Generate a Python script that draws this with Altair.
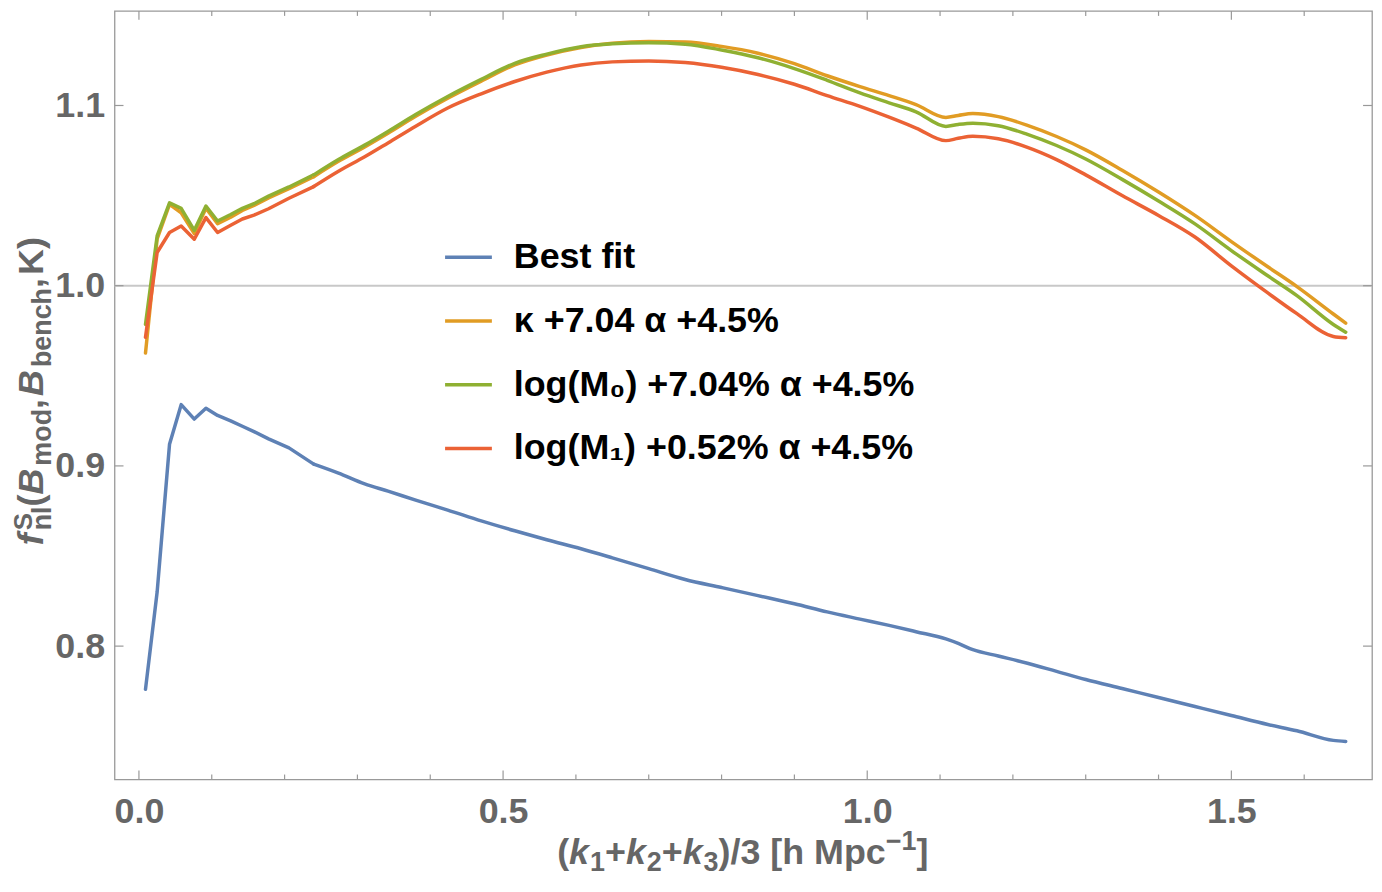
import altair as alt
import pandas as pd

# ---------------- data ----------------
K = [0.009, 0.025, 0.042, 0.058, 0.076, 0.092, 0.108, 0.126, 0.142, 0.158,
     0.178, 0.206, 0.240, 0.274, 0.310, 0.342, 0.380, 0.424, 0.470, 0.516,
     0.560, 0.607, 0.650, 0.700, 0.750, 0.800, 0.850, 0.900, 0.945, 0.990,
     1.030, 1.067, 1.108, 1.125, 1.145, 1.180, 1.220, 1.260, 1.300, 1.350,
     1.400, 1.450, 1.500, 1.550, 1.590, 1.640, 1.657]

BEST = [0.776, 0.830, 0.912, 0.934, 0.926, 0.932, 0.928, 0.925, 0.922, 0.919,
        0.915, 0.910, 0.901, 0.896, 0.890, 0.886, 0.881, 0.8755, 0.8695, 0.864,
        0.859, 0.854, 0.849, 0.843, 0.837, 0.8325, 0.828, 0.8235, 0.819, 0.815,
        0.8115, 0.808, 0.804, 0.8015, 0.798, 0.7945, 0.7905, 0.786, 0.7815, 0.7765,
        0.7715, 0.7665, 0.7615, 0.7565, 0.753, 0.7477, 0.7471]

KAPPA = [0.9626, 1.026, 1.0451, 1.0405, 1.0289, 1.043, 1.0344, 1.038, 1.0418, 1.0445,
         1.0487, 1.0538, 1.0605, 1.069, 1.077, 1.0846, 1.094, 1.104, 1.1135, 1.1225,
         1.128, 1.1322, 1.1345, 1.1355, 1.1352, 1.1328, 1.129, 1.1232, 1.1165, 1.1105,
         1.1055, 1.1005, 1.0934, 1.0945, 1.0955, 1.0938, 1.089, 1.0828, 1.0754, 1.0641,
         1.052, 1.0390, 1.0245, 1.0105, 0.9995, 0.9843, 0.9792]

LOGM0 = [0.9785, 1.0276, 1.046, 1.0429, 1.0307, 1.0442, 1.0359, 1.0395, 1.0429, 1.0455,
         1.0497, 1.0548, 1.0615, 1.070, 1.078, 1.0856, 1.095, 1.105, 1.1145, 1.1234,
         1.1285, 1.1326, 1.1342, 1.1348, 1.1340, 1.1308, 1.1265, 1.1205, 1.1140, 1.1070,
         1.1015, 1.0965, 1.0884, 1.0895, 1.0902, 1.0888, 1.0840, 1.0778, 1.0703, 1.0590,
         1.0470, 1.0343, 1.0195, 1.0055, 0.9945, 0.9785, 0.9742]

LOGM1 = [0.9714, 1.0184, 1.0295, 1.0331, 1.0258, 1.0378, 1.0295, 1.0335, 1.037, 1.0392,
         1.0427, 1.0485, 1.0550, 1.0635, 1.0715, 1.0792, 1.0885, 1.0986, 1.1065, 1.1133,
         1.1185, 1.1225, 1.1242, 1.1247, 1.1238, 1.1212, 1.1172, 1.1118, 1.1055, 1.0995,
         1.0935, 1.0875, 1.0805, 1.0818, 1.0829, 1.0815, 1.0768, 1.0700, 1.0615, 1.0500,
         1.0390, 1.0270, 1.0110, 0.9960, 0.9845, 0.9718, 0.9711]

NAMES = ["Best fit", "κ +7.04 α +4.5%", "log(M₀) +7.04% α +4.5%", "log(M₁) +0.52% α +4.5%"]
COLORS = ["#5E81B5", "#E19C24", "#8FB032", "#EB6235"]

X_TICKS = [0.0, 0.5, 1.0, 1.5]
X_MINOR = [0.1, 0.2, 0.3, 0.4, 0.6, 0.7, 0.8, 0.9, 1.1, 1.2, 1.3, 1.4, 1.6]
Y_TICKS = [0.8, 0.9, 1.0, 1.1]
REF_LINE = [1.0]
K_SPLIT = 0.240   # below this the reference shows straight segments

# ---------------- layout / style ----------------
FONT = "Liberation Sans"
GRAY = "#666666"
FRAME = "#999999"
W, H = 1263, 772
XDOM = [-0.0335, 1.6931]
YDOM = [0.72597, 1.15249]

rows = []
for name, vals in zip(NAMES, [BEST, KAPPA, LOGM0, LOGM1]):
    for k, v in zip(K, vals):
        rows.append({"k": k, "f": v, "series": name})
df = pd.DataFrame(rows)
df_early = df[df["k"] <= K_SPLIT]
df_late = df[df["k"] >= K_SPLIT]

xs = alt.Scale(domain=XDOM, nice=False, zero=False)
ys = alt.Scale(domain=YDOM, nice=False, zero=False)
XAX = alt.Axis(values=X_TICKS, format=".1f", title=None, labelPadding=15)
YAX = alt.Axis(values=Y_TICKS, format=".1f", title=None, labelPadding=10)

ref = alt.Chart(pd.DataFrame({"r": REF_LINE})).mark_rule(
    color="#C8C8C8", strokeWidth=2
).encode(y=alt.Y("r:Q", scale=ys, axis=YAX, title=None))


def xtick_layer(vals, length, top):
    d = pd.DataFrame({"v": vals})
    if top:
        yy, yy2 = alt.value(0), alt.value(length)
    else:
        yy, yy2 = alt.value(H), alt.value(H - length)
    return alt.Chart(d).mark_rule(color=FRAME, strokeWidth=1.2).encode(
        x=alt.X("v:Q", scale=xs, axis=XAX, title=None), y=yy, y2=yy2)


def ytick_layer(vals, length, right):
    d = pd.DataFrame({"v": vals})
    if right:
        xx, xx2 = alt.value(W), alt.value(W - length)
    else:
        xx, xx2 = alt.value(0), alt.value(length)
    return alt.Chart(d).mark_rule(color=FRAME, strokeWidth=1.2).encode(
        y=alt.Y("v:Q", scale=ys, axis=YAX, title=None), x=xx, x2=xx2)


ticks = [
    xtick_layer(X_TICKS, 9, False), xtick_layer(X_MINOR, 5, False),
    xtick_layer(X_TICKS, 9, True), xtick_layer(X_MINOR, 5, True),
    ytick_layer(Y_TICKS, 9, False), ytick_layer(Y_TICKS, 9, True),
]

LEG = alt.Legend(title=None, orient="none", legendX=330, legendY=222,
                 symbolType="stroke", symbolSize=2209, symbolStrokeWidth=3.5,
                 labelFont=FONT, labelFontSize=36, labelFontWeight="bold",
                 labelColor="black", labelOffset=20, rowPadding=20,
                 labelLimit=800, padding=0)
COL = alt.Color("series:N", sort=NAMES, scale=alt.Scale(domain=NAMES, range=COLORS),
                legend=LEG)


def line_layer(data, interp):
    return alt.Chart(data).mark_line(
        strokeWidth=3.5, strokeJoin="round", strokeCap="round", interpolate=interp
    ).encode(
        x=alt.X("k:Q", scale=xs, axis=XAX, title=None),
        y=alt.Y("f:Q", scale=ys, axis=YAX, title=None),
        color=COL,
    )


lines_early = line_layer(df_early, "linear")
lines_late = line_layer(df_late, "monotone")

# ---------------- rich axis titles built from text pieces ----------------
CW = {"f": 333, "S": 667, "n": 611, "l": 278, "(": 333, ")": 333, "B": 722, "m": 889,
      "o": 611, "d": 611, ",": 278, "b": 611, "e": 556, "c": 556, "h": 611, "K": 722,
      "k": 556, "+": 584, "/": 278, " ": 278, "[": 333, "]": 333, "M": 833, "p": 611,
      "−": 584, "0": 556, "1": 556, "2": 556, "3": 556}


def tw(s, size):
    return sum(CW.get(ch, 556) for ch in s) * size / 1000.0


one = pd.DataFrame({"d": [0]})


def piece(text, x, y, dx, dy, size, style, angle):
    return alt.Chart(one).mark_text(
        text=text, dx=dx, dy=dy, angle=angle, align="left", baseline="alphabetic",
        font=FONT, fontSize=size, fontStyle=style, fontWeight="bold", color=GRAY
    ).encode(x=alt.value(x), y=alt.value(y))


def build(parts):
    # parts: (text, size, style, shift, gap, advance)
    out, pos = [], 0.0
    for text, size, style, shift, gap, adv in parts:
        out.append((text, pos, shift, size, style))
        if adv:
            pos += tw(text, size) + gap
    return out, pos


F, S = 36, 27
ypieces, ylen = build([
    ("f", F, "italic", 0, 3, True), ("S", 26, "normal", -11, 0, False),
    ("nl", S, "normal", 8, 0, True), ("(", F, "normal", 0, 0, True),
    ("B", F, "italic", 0, 3, True), ("mod", S, "normal", 8, 0, True),
    (",", F, "normal", 0, 3, True), ("B", F, "italic", 0, 3, True),
    ("bench", S, "normal", 8, 0, True), (",", F, "normal", 0, 3, True),
    ("K", F, "normal", 0, 0, True), (")", F, "normal", 0, 0, True),
])
Y_ANCHOR_X = -72
Y_ANCHOR_Y = 382 + ylen / 2
ytitle = [piece(t, Y_ANCHOR_X, Y_ANCHOR_Y, p, s, sz, st, 270) for t, p, s, sz, st in ypieces]

S2 = 27
xpieces, xlen = build([
    ("(", F, "normal", 0, 0, True), ("k", F, "italic", 0, 1, True),
    ("1", S2, "normal", 7, 0, True), ("+", F, "normal", 0, 0, True),
    ("k", F, "italic", 0, 1, True), ("2", S2, "normal", 7, 0, True),
    ("+", F, "normal", 0, 0, True), ("k", F, "italic", 0, 1, True),
    ("3", S2, "normal", 7, 0, True), (")/3 [h Mpc", F, "normal", 0, 0, True),
    ("−1", S2, "normal", -14, 0, True), ("]", F, "normal", 0, 0, True),
])
X_ANCHOR_X = 631 - xlen / 2
X_ANCHOR_Y = 857
xtitle = [piece(t, X_ANCHOR_X, X_ANCHOR_Y, p, s, sz, st, 0) for t, p, s, sz, st in xpieces]

chart = alt.layer(ref, *ticks, lines_early, lines_late, *ytitle, *xtitle).properties(
    width=W, height=H,
    autosize=alt.AutoSizeParams(type="none"),
    padding={"left": 107, "top": 1, "right": 2, "bottom": 98},
).configure_view(
    stroke=FRAME, strokeWidth=1.3
).configure_axis(
    labelFont=FONT, labelFontSize=36, labelFontWeight="bold", labelColor=GRAY,
    ticks=False, tickSize=0, domain=False, grid=False
)

chart.save("out.html", embed_options={"renderer": "svg", "actions": False})
